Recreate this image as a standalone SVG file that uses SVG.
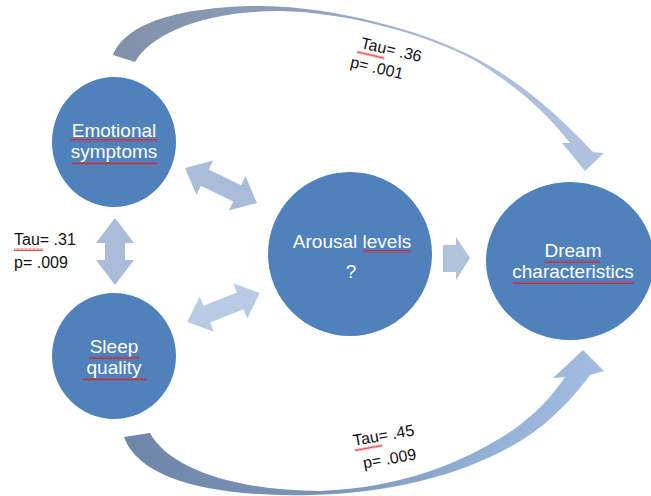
<svg xmlns="http://www.w3.org/2000/svg" width="651" height="496" viewBox="0 0 651 496">
<style>
.node{fill:#4f81bd;}
.nt{font-family:"Liberation Sans",Arial,sans-serif;font-size:19px;fill:#ffffff;text-anchor:middle;}
.lbl{font-family:"Liberation Sans",Arial,sans-serif;font-size:16px;fill:#111111;}
.wavy{fill:url(#wave);}
</style>
<defs>
<pattern id="wave" patternUnits="userSpaceOnUse" width="4" height="3">
<polyline points="0,2.5 1,0.5 2,2.5 3,0.5 4,2.5" fill="none" stroke="#e02020" stroke-width="0.8"/>
</pattern>
<linearGradient id="gTop" gradientUnits="userSpaceOnUse" x1="113" y1="0" x2="600" y2="0">
<stop offset="0" stop-color="#8090ab"/>
<stop offset="0.35" stop-color="#8d9ebb"/>
<stop offset="0.7" stop-color="#aabedb"/>
<stop offset="1" stop-color="#afc2df"/>
</linearGradient>
<linearGradient id="gBot" gradientUnits="userSpaceOnUse" x1="125" y1="0" x2="605" y2="0">
<stop offset="0" stop-color="#6f86a8"/>
<stop offset="0.4" stop-color="#7b93b8"/>
<stop offset="0.75" stop-color="#93b0d6"/>
<stop offset="1" stop-color="#a3bde0"/>
</linearGradient>
</defs>
<rect width="651" height="496" fill="#ffffff"/>
<g id="connectors">
<path id="arrow-top" fill="url(#gTop)" d="M113,55 C128,18 195,6 262,6 C335,7 420,30 472,56 C512,77 548,104 593,152 L604,153 L585,171 L562,143 L570,143 C548,115 520,88 474,60 C426,34 345,12 280,11 C205,11 152,33 135,62 Z"/>
<path id="arrow-bottom" fill="url(#gBot)" d="M124,437 C140,482 220,497 310,495 C400,493 480,470 534,432 C558,414 576,394 590,375 L604,371 L583,350 L553,378 L565,377 C550,400 532,416 513,430 C462,463 405,487 320,491 C240,491 170,470 150,433 Z"/>
<path id="arrow-emo-sleep" fill="#a9bcda" d="M0,-33.5 L19,-8.5 L10,-8.5 L10,8.5 L19,8.5 L0,33.5 L-19,8.5 L-10,8.5 L-10,-8.5 L-19,-8.5 Z" transform="translate(115,251.5)"/>
<path id="arrow-emo-arousal" fill="#a9bddb" d="M-40,0 L-18,-19 L-18,-9 L18,-9 L18,-19 L40,0 L18,19 L18,9 L-18,9 L-18,19 Z" transform="translate(221,185.5) rotate(26)"/>
<path id="arrow-sleep-arousal" fill="#b8cbe5" d="M-39,0 L-18,-19 L-18,-9 L18,-9 L18,-19 L39,0 L18,19 L18,9 L-18,9 L-18,19 Z" transform="translate(223.5,307.5) rotate(-21.7)"/>
<path id="arrow-arousal-dream" fill="#b0c3de" d="M443,245 L456,245 L456,237 L470,258 L456,280 L456,272 L443,272 Z"/>
</g>
<g id="node-emotional">
<ellipse class="node" cx="114" cy="142" rx="62" ry="65"/>
<text class="nt" x="114" y="137">Emotional</text>
<text class="nt" x="114" y="158">symptoms</text>
<rect class="wavy" x="70" y="139" width="87" height="3"/>
<rect class="wavy" x="72" y="162" width="85" height="3"/>
</g>
<g id="node-sleep">
<ellipse class="node" cx="114" cy="356" rx="62" ry="63"/>
<text class="nt" x="114" y="353">Sleep</text>
<text class="nt" x="114" y="374">quality</text>
<rect class="wavy" x="89" y="356" width="50" height="3"/>
<rect class="wavy" x="83" y="378" width="64" height="3"/>
</g>
<g id="node-arousal">
<ellipse class="node" cx="350" cy="254" rx="82" ry="82"/>
<text class="nt" x="352" y="248">Arousal levels</text>
<text class="nt" x="351" y="278">?</text>
<rect class="wavy" x="363" y="250" width="48" height="3"/>
</g>
<g id="node-dream">
<ellipse class="node" cx="570" cy="261" rx="84" ry="79"/>
<text class="nt" x="573" y="257">Dream</text>
<text class="nt" x="573" y="278">characteristics</text>
<rect class="wavy" x="544" y="260" width="56" height="3"/>
<rect class="wavy" x="513" y="281" width="121" height="3"/>
</g>
<g id="label-left">
<text class="lbl" x="14" y="245">Tau= .31</text>
<text class="lbl" x="14" y="268">p= .009</text>
<rect class="wavy" x="14" y="248" width="29" height="3"/>
</g>
<g id="label-top" transform="translate(360,48) rotate(13)">
<text class="lbl" x="0" y="0">Tau= .36</text>
<text class="lbl" x="-6" y="21">p= .001</text>
<rect class="wavy" x="-2" y="3" width="28" height="3"/>
</g>
<g id="label-bottom" transform="translate(354,446) rotate(-10)">
<text class="lbl" x="0" y="0">Tau= .45</text>
<text class="lbl" x="6" y="24">p= .009</text>
<rect class="wavy" x="0" y="3" width="28" height="3"/>
</g>
</svg>
